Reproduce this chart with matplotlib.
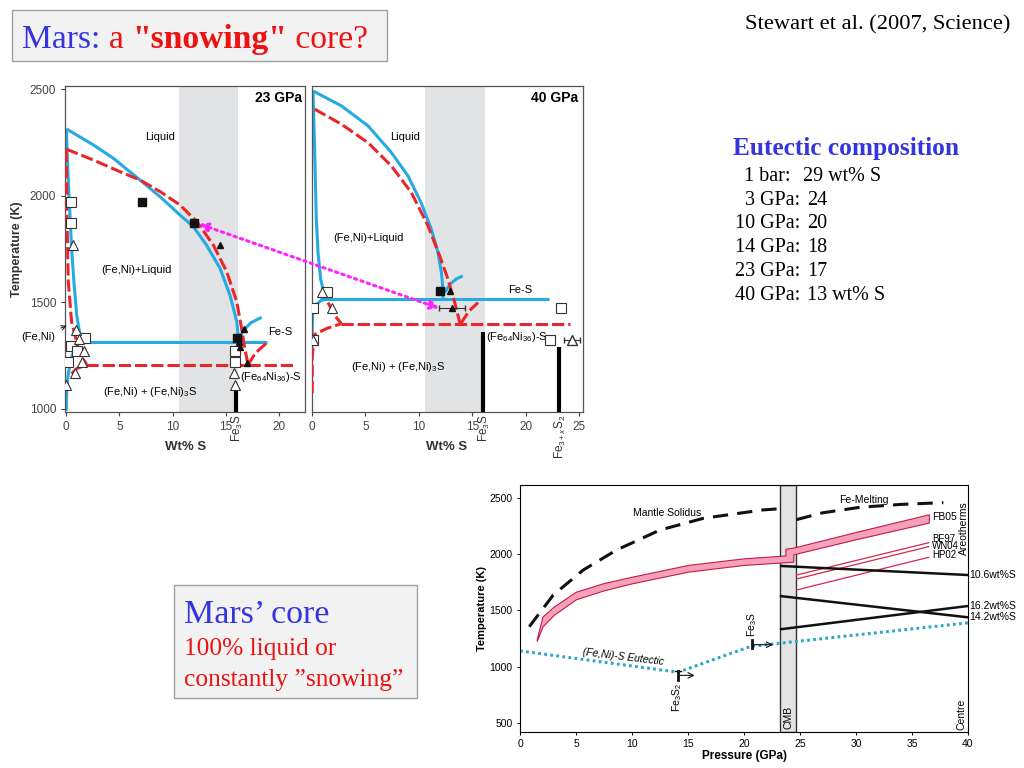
import matplotlib.pyplot as plt
from matplotlib.patches import Rectangle, ConnectionPatch

plt.rcParams['font.family'] = ['Liberation Sans', 'DejaVu Sans']
plt.rcParams['mathtext.fontset'] = 'custom'
plt.rcParams['mathtext.rm'] = 'Liberation Sans'
plt.rcParams['mathtext.it'] = 'Liberation Sans:italic'
plt.rcParams['mathtext.bf'] = 'Liberation Sans:bold'
SERIF = ['Liberation Serif', 'DejaVu Serif']

W, H = 1024, 768
BLUE = '#27a9e1'
RED = '#e8262b'
BAND = '#e1e3e5'
SLIDE_BLUE = '#3535dd'
SLIDE_RED = '#ee1111'

# ---------------- 23 GPa panel (wt% S, K) ----------------
liq_blue_23_x = [0, 2.54, 4.43, 6.94, 8.82, 10.7, 11.96, 13.2, 14.47, 15.4, 16.05, 16.2, 16.25]
liq_blue_23_T = [2314, 2239, 2176, 2074, 1996, 1910, 1855, 1769, 1660, 1535, 1410, 1339, 1316]
sol_blue_23_x = [0, 0.19, 0.35, 0.5, 0.72, 0.98, 1.29, 1.6]
sol_blue_23_T = [2314, 2066, 1910, 1754, 1597, 1441, 1347, 1316]
low_blue_23_x = [0, 0.05, 0.2, 0.5, 0.8, 1.1]
low_blue_23_T = [990, 1100, 1170, 1240, 1290, 1316]
fes_blue_23_x = [16.2, 16.7, 17.4, 18.4]
fes_blue_23_T = [1325, 1370, 1405, 1430]
eut_blue_23_x = [1.1, 18.9]
eut_blue_23_T = [1316, 1316]

liq_red_23_x = [0.0, 0.19, 2.54, 5.06, 6.94, 8.82, 10.7, 12.28, 13.84, 15.1, 16.05, 16.5, 16.8, 17.1]
liq_red_23_T = [2218, 2215, 2168, 2113, 2074, 2020, 1957, 1879, 1769, 1644, 1503, 1378, 1285, 1210]
sol_red_23_x = [0, 0.02, 0.06, 0.19, 0.5, 1.29, 1.92]
sol_red_23_T = [2215, 2100, 1910, 1597, 1410, 1253, 1210]
low_red_23_x = [0.5, 1.0, 1.9]
low_red_23_T = [1165, 1190, 1206]
fes_red_23_x = [17.1, 17.8, 19.0]
fes_red_23_T = [1206, 1262, 1316]
eut_red_23_x = [1.9, 21.5]
eut_red_23_T = [1206, 1206]

osq_23_x = [0.41, 0.47, 1.76, 0.41, 1.0, 0.19, 15.9, 15.9]
osq_23_T = [1973, 1871, 1332, 1297, 1273, 1222, 1273, 1222]
otri_23_x = [0.6, 0.91, 1.2, 1.7, 1.5, 0.82, 0.0, 15.8, 15.9]
otri_23_T = [1769, 1370, 1330, 1273, 1222, 1170, 1113, 1170, 1113]
fsq_23_x = [7.16, 12.03, 16.1]
fsq_23_T = [1973, 1871, 1332]
ftri_23_x = [14.5, 16.3, 16.7, 16.4, 17.0]
ftri_23_T = [1769, 1316, 1374, 1290, 1217]

# ---------------- 40 GPa panel ----------------
liq_blue_40_x = [0.09, 2.74, 5.24, 7.42, 8.98, 10.2, 11.16, 11.79, 12.1, 12.25, 12.25]
liq_blue_40_T = [2492, 2422, 2328, 2203, 2093, 1968, 1843, 1733, 1640, 1561, 1515]
sol_blue_40_x = [0.09, 0.25, 0.4, 0.56, 0.81, 1.18, 1.6]
sol_blue_40_T = [2492, 2203, 1890, 1733, 1608, 1530, 1515]
low_blue_40_x = [0.0, 0.0, 0.05, 0.25, 0.87, 1.4]
low_blue_40_T = [1240, 1357, 1440, 1483, 1510, 1515]
fes_blue_40_x = [12.4, 12.9, 13.5, 14.1]
fes_blue_40_T = [1545, 1585, 1610, 1624]
eut_blue_40_x = [0.75, 22.2]
eut_blue_40_T = [1515, 1515]

liq_red_40_x = [0.25, 2.74, 5.24, 7.42, 9.29, 10.85, 11.94, 12.72, 13.35, 13.82, 13.9]
liq_red_40_T = [2406, 2336, 2249, 2140, 2015, 1859, 1718, 1608, 1499, 1405, 1400]
fes_red_40_x = [13.9, 14.7, 15.53]
fes_red_40_T = [1400, 1460, 1499]
up_red_40_x = [1.5, 2.1, 2.74]
up_red_40_T = [1499, 1440, 1400]
low_red_40_x = [0.02, 0.02, 0.25, 1.4, 2.74]
low_red_40_T = [1075, 1250, 1350, 1378, 1400]
eut_red_40_x = [2.74, 24.1]
eut_red_40_T = [1400, 1400]

osq_40_x = [1.37, 0.06, 23.3, 0.06, 22.3]
osq_40_T = [1550, 1472, 1472, 1324, 1324]
otri_40_x = [0.9, 1.84, 0.06]
otri_40_T = [1550, 1472, 1324]
fsq_40_x = [12.0]
fsq_40_T = [1555]
ftri_40_x = [12.9]
ftri_40_T = [1555]
err_tri_x = [13.1, 24.3]
err_tri_T = [1472, 1324]
err_tri_dx = [1.25, 0.75]

# ---------------- pressure profile panel (GPa, K) ----------------
solidus_P = [0.83, 2.97, 5.65, 8.63, 12.5, 16.4, 21.7, 23.0]
solidus_T = [1356, 1638, 1861, 2039, 2217, 2322, 2396, 2405]
femelt_P = [24.7, 27, 30.4, 34, 37.8]
femelt_T = [2310, 2370, 2420, 2445, 2461]
areo_P = [1.5, 2, 3, 5, 7.5, 10, 15, 20, 23.7, 23.7, 24.4, 24.4, 30, 36.5]
areo_hi = [1245, 1445, 1534, 1668, 1745, 1801, 1906, 1965, 1990, 2050, 2060, 2060, 2200, 2357]
areo_lo = [1230, 1356, 1460, 1600, 1680, 1742, 1846, 1906, 1930, 1930, 1935, 2000, 2135, 2283]
areo_names = ['BF97', 'WN04', 'HP02']
areo_T0 = [1816, 1781, 1683]
areo_T1 = [2104, 2069, 1974]
areo_P01 = [24.7, 36.5]
s_names = ['10.6wt%S', '14.2wt%S', '16.2wt%S']
s_T0 = [1897, 1629, 1332]
s_T1 = [1816, 1439, 1540]
s_P01 = [23.2, 40]
eut_P = [0, 14.1, 20.6, 40]
eut_T = [1140, 950, 1180, 1390]

eutectic_labels = ['1 bar:', '3 GPa:', '10 GPa:', '14 GPa:', '23 GPa:', '40 GPa:']
eutectic_values = ['29 wt% S', '24', '20', '18', '17', '13 wt% S']


def box(l, t, r, b):
    return [l / W, 1 - b / H, (r - l) / W, (b - t) / H]


fig = plt.figure(figsize=(W / 100, H / 100), dpi=100)

# background axes in pixel coordinates for the slide text
bg = fig.add_axes([0, 0, 1, 1])
bg.set_xlim(0, W)
bg.set_ylim(H, 0)
bg.axis('off')

bg.add_patch(Rectangle((12, 10), 375, 51, fc='#f2f2f2', ec='#a0a0a0', lw=1))
t = bg.text(22, 48, 'Mars: ', color=SLIDE_BLUE, fontsize=24.2, family=SERIF, va='baseline')
t = bg.annotate('a ', xy=(1, 0), xycoords=t, color=SLIDE_RED, fontsize=24.2, family=SERIF, va='bottom')
t = bg.annotate('"snowing"', xy=(1, 0), xycoords=t, color=SLIDE_RED, fontsize=24.2, family=SERIF,
                weight='bold', va='bottom')
bg.annotate(' core?', xy=(1, 0), xycoords=t, color=SLIDE_RED, fontsize=24.2, family=SERIF, va='bottom')

bg.text(1010, 29, 'Stewart et al. (2007, Science)', ha='right', va='baseline', fontsize=16.2, family=SERIF)

bg.text(733, 155, 'Eutectic composition', color=SLIDE_BLUE, fontsize=18.3, weight='bold', family=SERIF,
        va='baseline')
label_right = [791, 800, 800, 800, 800, 800]
value_left = [803, 807, 807, 807, 807, 807]
for i, (lab, val) in enumerate(zip(eutectic_labels, eutectic_values)):
    y = 181 + i * 23.7
    bg.text(label_right[i], y, lab, ha='right', va='baseline', fontsize=14.5, family=SERIF)
    bg.text(value_left[i], y, val, ha='left', va='baseline', fontsize=14.5, family=SERIF)

bg.add_patch(Rectangle((174, 585), 243, 113, fc='#f2f2f2', ec='#a0a0a0', lw=1))
bg.text(184, 623, 'Mars\u2019 core', color=SLIDE_BLUE, fontsize=24.5, family=SERIF, va='baseline')
bg.text(184, 655, '100% liquid or', color=SLIDE_RED, fontsize=18.3, family=SERIF, va='baseline')
bg.text(184, 686, 'constantly \u201dsnowing\u201d', color=SLIDE_RED, fontsize=18.3, family=SERIF, va='baseline')


def phase_axes(ax, xmin, xmax):
    ax.set_ylim(987, 2515)
    ax.set_xlim(xmin, xmax)
    ax.axvspan(10.6, 16.2, color=BAND, lw=0, zorder=0)
    for s in ax.spines.values():
        s.set_color('#555555')
        s.set_linewidth(0.9)
    ax.tick_params(labelsize=8.5, colors='#444444', length=3, width=0.8)


def blue(ax, x, y):
    ax.plot(x, y, color=BLUE, lw=2.2, solid_capstyle='butt', solid_joinstyle='round', zorder=2)


def red(ax, x, y):
    ax.plot(x, y, color=RED, lw=2.2, ls=(0, (4, 1.3)), zorder=3)


def marks(ax, osx, osy, otx, oty, fsx, fsy, ftx, fty):
    ax.plot(osx, osy, 's', ms=6.5, mfc='white', mec='#333333', mew=0.8, ls='none', zorder=5)
    ax.plot(otx, oty, '^', ms=6.5, mfc='white', mec='#333333', mew=0.8, ls='none', zorder=5)
    ax.plot(fsx, fsy, 's', ms=5.5, color='#111111', ls='none', zorder=6)
    ax.plot(ftx, fty, '^', ms=4.5, color='#111111', ls='none', zorder=6)


# ---------------- 23 GPa ----------------
ax1 = fig.add_axes(box(65.2, 86, 305.3, 411.7))
phase_axes(ax1, -0.1, 22.5)
for x, y in [(liq_blue_23_x, liq_blue_23_T), (sol_blue_23_x, sol_blue_23_T), (low_blue_23_x, low_blue_23_T),
             (fes_blue_23_x, fes_blue_23_T), (eut_blue_23_x, eut_blue_23_T)]:
    blue(ax1, x, y)
for x, y in [(liq_red_23_x, liq_red_23_T), (sol_red_23_x, sol_red_23_T), (low_red_23_x, low_red_23_T),
             (fes_red_23_x, fes_red_23_T), (eut_red_23_x, eut_red_23_T)]:
    red(ax1, x, y)
marks(ax1, osq_23_x, osq_23_T, otri_23_x, otri_23_T, fsq_23_x, fsq_23_T, ftri_23_x, ftri_23_T)
ax1.plot([16, 16], [987, 1100], color='black', lw=3, solid_capstyle='butt', zorder=4)
ax1.set_xticks([0, 5, 10, 15, 20])
ax1.set_yticks([1000, 1500, 2000, 2500])
ax1.set_ylabel('Temperature (K)', fontsize=9, weight='bold', color='#333333')
ax1.yaxis.set_label_coords(-0.176, 0.5)
ax1.set_xlabel('Wt% S', fontsize=9.5, weight='bold', color='#333333')
ax1.xaxis.set_label_coords(0.5, -0.09)
ax1.text(0.985, 0.985, '23 GPa', transform=ax1.transAxes, ha='right', va='top', fontsize=10, weight='bold')
ax1.text(8.8, 2275, 'Liquid', fontsize=8, ha='center', va='center')
ax1.text(6.6, 1652, '(Fe,Ni)+Liquid', fontsize=8, ha='center', va='center')
ax1.text(20.1, 1360, 'Fe-S', fontsize=8, ha='center', va='center')
ax1.text(16.4, 1151, '(Fe$_{64}$Ni$_{36}$)-S', fontsize=8, ha='left', va='center')
ax1.text(7.9, 1078, '(Fe,Ni) + (Fe,Ni)$_3$S', fontsize=8, ha='center', va='center')
ax1.annotate('(Fe,Ni)', xy=(0.3, 1395), xytext=(-2.6, 1339), fontsize=8, ha='center', va='center',
             arrowprops=dict(arrowstyle='->', lw=0.8, color='#222222'), annotation_clip=False)
ax1.text(16.1, -0.008, 'Fe$_3$S', transform=ax1.get_xaxis_transform(), rotation=90, ha='center', va='top',
         fontsize=8.5, color='#333333')

# ---------------- 40 GPa ----------------
ax2 = fig.add_axes(box(311.5, 86, 582.5, 411.7))
phase_axes(ax2, -0.05, 25.3)
for x, y in [(liq_blue_40_x, liq_blue_40_T), (sol_blue_40_x, sol_blue_40_T), (low_blue_40_x, low_blue_40_T),
             (fes_blue_40_x, fes_blue_40_T), (eut_blue_40_x, eut_blue_40_T)]:
    blue(ax2, x, y)
for x, y in [(liq_red_40_x, liq_red_40_T), (fes_red_40_x, fes_red_40_T), (up_red_40_x, up_red_40_T),
             (low_red_40_x, low_red_40_T), (eut_red_40_x, eut_red_40_T)]:
    red(ax2, x, y)
marks(ax2, osq_40_x, osq_40_T, otri_40_x, otri_40_T, fsq_40_x, fsq_40_T, ftri_40_x, ftri_40_T)
ax2.errorbar(err_tri_x[:1], err_tri_T[:1], xerr=err_tri_dx[:1], fmt='^', ms=4.5, color='#111111',
             ecolor='#333333', elinewidth=0.8, capsize=2, zorder=6)
ax2.errorbar(err_tri_x[1:], err_tri_T[1:], xerr=err_tri_dx[1:], fmt='^', ms=6.5, mfc='white', mec='#333333',
             ecolor='#333333', elinewidth=0.8, capsize=2, zorder=6)
ax2.plot([16, 16], [987, 1363], color='black', lw=3, solid_capstyle='butt', zorder=4)
ax2.plot([23.1, 23.1], [987, 1292], color='black', lw=3, solid_capstyle='butt', zorder=4)
ax2.set_xticks([0, 5, 10, 15, 20, 25])
ax2.set_yticks([])
ax2.set_xlabel('Wt% S', fontsize=9.5, weight='bold', color='#333333')
ax2.xaxis.set_label_coords(0.5, -0.09)
ax2.text(0.985, 0.985, '40 GPa', transform=ax2.transAxes, ha='right', va='top', fontsize=10, weight='bold')
ax2.text(8.7, 2275, 'Liquid', fontsize=8, ha='center', va='center')
ax2.text(5.3, 1801, '(Fe,Ni)+Liquid', fontsize=8, ha='center', va='center')
ax2.text(19.5, 1558, 'Fe-S', fontsize=8, ha='center', va='center')
ax2.text(16.3, 1339, '(Fe$_{64}$Ni$_{36}$)-S', fontsize=8, ha='left', va='center')
ax2.text(8.1, 1198, '(Fe,Ni) + (Fe,Ni)$_3$S', fontsize=8, ha='center', va='center')
ax2.text(16.1, -0.008, 'Fe$_3$S', transform=ax2.get_xaxis_transform(), rotation=90, ha='center', va='top',
         fontsize=8.5, color='#333333')
ax2.text(23.2, -0.008, 'Fe$_{3+x}$S$_2$', transform=ax2.get_xaxis_transform(), rotation=90, ha='center',
         va='top', fontsize=8.5, color='#333333')

arrow = ConnectionPatch(xyA=(12.5, 1868), coordsA=ax1.transData, xyB=(11.9, 1472), coordsB=ax2.transData,
                        arrowstyle='<|-|>', mutation_scale=13, color='#ff22ff', lw=2.2,
                        linestyle=(0, (0.8, 1.4)), zorder=10)
fig.add_artist(arrow)

# ---------------- pressure profile ----------------
ax3 = fig.add_axes(box(520, 485, 968, 731.7))
ax3.set_xlim(0, 40)
ax3.set_ylim(420, 2618)
ax3.axvspan(23.2, 24.6, fc='#e4e4e4', ec='#333333', lw=1, zorder=0)
ax3.plot(solidus_P, solidus_T, color='#111111', lw=2.2, ls=(0, (5, 3)))
ax3.plot(femelt_P, femelt_T, color='#111111', lw=2.2, ls=(0, (5, 3)))
ax3.fill_between(areo_P, areo_lo, areo_hi, fc='#f6a1ba', ec='#c3184a', lw=0.8, zorder=3)
for name, t0, t1 in zip(areo_names, areo_T0, areo_T1):
    ax3.plot(areo_P01, [t0, t1], color='#d8284f', lw=0.9)
ax3.text(36.8, 2140, 'BF97', fontsize=7, va='center')
ax3.text(36.8, 2076, 'WN04', fontsize=7, va='center')
ax3.text(36.8, 1993, 'HP02', fontsize=7, va='center')
ax3.text(36.8, 2336, 'FB05', fontsize=7.5, va='center')
ax3.text(39.6, 2232, 'Areotherms', fontsize=7.5, rotation=90, ha='center', va='center')
for name, t0, t1 in zip(s_names, s_T0, s_T1):
    ax3.plot(s_P01, [t0, t1], color='#111111', lw=1.8, solid_capstyle='butt')
    ax3.text(40.1, t1, name, fontsize=7.5, va='center', ha='left', clip_on=False)
ax3.plot(eut_P, eut_T, color='#2aa6c8', lw=2.2, ls=(0, (0.9, 1.1)))
ax3.text(9.2, 1088, '(Fe,Ni)-S Eutectic', fontsize=7.5, style='italic', rotation=-7, ha='center',
         va='center')
ax3.text(13.1, 2366, 'Mantle Solidus', fontsize=7.5, ha='center', va='center')
ax3.text(30.7, 2485, 'Fe-Melting', fontsize=7.5, ha='center', va='center')
ax3.text(23.95, 545, 'CMB', fontsize=7.5, rotation=90, ha='center', va='center')
ax3.text(39.45, 575, 'Centre', fontsize=7.5, rotation=90, ha='center', va='center')
# Fe3S2 and Fe3S markers
ax3.plot([14.1, 14.1], [880, 958], color='#111111', lw=2)
ax3.plot([13.8, 14.4], [958, 958], color='#111111', lw=1)
ax3.annotate('', xy=(15.6, 922), xytext=(14.1, 922),
             arrowprops=dict(arrowstyle='->', lw=0.8, color='#111111', shrinkA=0, shrinkB=0))
ax3.text(14.0, 860, 'Fe$_3$S$_2$', fontsize=7.5, rotation=90, ha='center', va='top')
ax3.plot([20.7, 20.7], [1163, 1240], color='#111111', lw=2)
ax3.annotate('', xy=(22.6, 1195), xytext=(20.7, 1195),
             arrowprops=dict(arrowstyle='->', lw=0.8, color='#111111', shrinkA=0, shrinkB=0))
ax3.text(20.7, 1265, 'Fe$_3$S', fontsize=7.5, rotation=90, ha='center', va='bottom')
ax3.set_xticks(range(0, 41, 5))
ax3.set_yticks(range(500, 2501, 500))
ax3.tick_params(labelsize=7.5, length=2, width=0.7)
ax3.set_xlabel('Pressure (GPa)', fontsize=8.5, weight='bold')
ax3.xaxis.set_label_coords(0.5, -0.075)
ax3.set_ylabel('Temperature (K)', fontsize=8, weight='bold')
ax3.yaxis.set_label_coords(-0.074, 0.5)

fig.savefig('out.png', dpi=100)
